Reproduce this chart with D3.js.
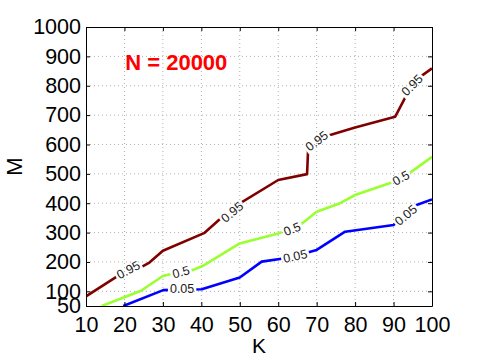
<!DOCTYPE html>
<html><head><meta charset="utf-8">
<script src="https://cdn.jsdelivr.net/npm/d3@7"></script>
<style>
html,body{margin:0;padding:0;background:#fff;}
svg{display:block;font-family:"Liberation Sans",Arial,Helvetica,sans-serif;}
</style></head>
<body><svg id="chart" width="478" height="359"></svg>
<script>
(function(){
// ---- data ----
const xTicks = [10,20,30,40,50,60,70,80,90,100];
const yTicks = [50,100,200,300,400,500,600,700,800,900,1000];
const k95 = [10,18,24,26.5,30,40.7,48,60,67.5,67.8,72,80,90.4,93.6,97,100];
const m95 = [83,150,180,198,238,298,383,479,499,590,626,658,694,774,831,859];
const k50 = [14.1,24.3,30,32.7,37.9,40.3,50,60,65.7,70,76.1,80,90.1,93.8,100];
const m50 = [50,102,152,161,173,186,263,297,326,371,400,428,473,499,558];
const k05 = [19.7,30.1,40.1,50,55.7,61.3,67.4,70,77.4,90,96,100];
const m05 = [50,104,107,147,201,212,231,241,303,326,394,413];
const levelNames = ["0.95","0.5","0.05"];
const levelColors = ["#800000","#99ff33","#0000ff"];
// contour label anchors (K, M, angle)
const lab95K = [21,48,70,94.8], lab95M = [173,370,612,802], lab95A = [-28,-40,-37,-45];
const lab50K = [34.7,63.6,91.9], lab50M = [166,312,486], lab50A = [-15,-22,-29];
const lab05K = [35,64.4,93.2], lab05M = [108,220,360], lab05A = [0,-12,-40];
const titleText = "N = 20000";

// ---- layout ----
const L=86, R=432, T=27, B=306;
const x = d3.scaleLinear().domain([10,100]).range([L,R]);
const y = d3.scaleLinear().domain([50,1000]).range([B,T]);
const svg = d3.select("#chart");

// grid
const grid = svg.append("g");
grid.selectAll("line.v").data(xTicks.slice(1,-1)).enter().append("line")
  .attr("x1",d=>x(d)).attr("x2",d=>x(d)).attr("y1",T).attr("y2",B)
  .attr("stroke","#b0b0b0").attr("stroke-width",1).attr("stroke-dasharray","1,3");
grid.selectAll("line.h").data(yTicks.slice(1,-1)).enter().append("line")
  .attr("x1",L).attr("x2",R).attr("y1",d=>y(d)).attr("y2",d=>y(d))
  .attr("stroke","#b0b0b0").attr("stroke-width",1).attr("stroke-dasharray","1,3");

// series
const series = [
  {k:k95,m:m95,lk:lab95K,lm:lab95M,la:lab95A},
  {k:k50,m:m50,lk:lab50K,lm:lab50M,la:lab50A},
  {k:k05,m:m05,lk:lab05K,lm:lab05M,la:lab05A}
];
const defs = svg.append("defs");
defs.append("clipPath").attr("id","clip").append("rect")
  .attr("x",L).attr("y",T).attr("width",R-L).attr("height",B-T);
const mask = defs.append("mask").attr("id","lblmask").attr("maskUnits","userSpaceOnUse")
  .attr("x",0).attr("y",0).attr("width",478).attr("height",359);
mask.append("rect").attr("x",0).attr("y",0).attr("width",478).attr("height",359).attr("fill","#fff");

const lineGen = d3.line().x(d=>x(d[0])).y(d=>y(d[1]));
const lines = svg.append("g").attr("clip-path","url(#clip)").append("g").attr("mask","url(#lblmask)");
const labels = svg.append("g");
series.forEach((s,i)=>{
  const pts = s.k.map((kk,j)=>[kk,s.m[j]]);
  lines.append("path").attr("d",lineGen(pts)).attr("fill","none")
    .attr("stroke",levelColors[i]).attr("stroke-width",2.6).attr("stroke-linejoin","round");
  s.lk.forEach((kk,j)=>{
    const cx=x(kk), cy=y(s.lm[j]);
    const t = labels.append("text").attr("transform",`translate(${cx},${cy}) rotate(${s.la[j]})`)
      .attr("text-anchor","middle").attr("dy","0.35em").attr("font-size",12.5).attr("fill","#222")
      .text(levelNames[i]);
    const w = t.node().getComputedTextLength()+4;
    mask.append("rect").attr("transform",`translate(${cx},${cy}) rotate(${s.la[j]})`)
      .attr("x",-w/2).attr("y",-6).attr("width",w).attr("height",12).attr("fill","#000");
  });
});

// axes
const fs = 21.5;
const fmt = d3.format("d");
const ax = svg.append("g");
const gLeft = ax.append("g").attr("transform",`translate(${L},0)`)
  .call(d3.axisLeft(y).tickValues(yTicks).tickFormat(fmt).tickSizeInner(-4).tickSizeOuter(0).tickPadding(5));
const gBottom = ax.append("g").attr("transform",`translate(0,${B})`)
  .call(d3.axisBottom(x).tickValues(xTicks).tickFormat(fmt).tickSizeInner(-4).tickSizeOuter(0).tickPadding(11));
const gRight = ax.append("g").attr("transform",`translate(${R},0)`)
  .call(d3.axisRight(y).tickValues(yTicks).tickSizeInner(-4).tickSizeOuter(0).tickFormat(""));
const gTop = ax.append("g").attr("transform",`translate(0,${T})`)
  .call(d3.axisTop(x).tickValues(xTicks).tickSizeInner(-4).tickSizeOuter(0).tickFormat(""));
[gLeft,gBottom,gRight,gTop].forEach(g=>{
  g.selectAll("path.domain").attr("stroke","#000");
  g.selectAll(".tick line").attr("stroke","#000");
  g.selectAll("text").attr("font-size",fs).attr("font-family","'Liberation Sans',Arial,Helvetica,sans-serif").attr("fill","#000");
});

// axis labels
svg.append("text").attr("x",(L+R)/2).attr("y",353).attr("text-anchor","middle")
  .attr("font-size",21).attr("fill","#000").text("K");
svg.append("text").attr("transform",`translate(22,${(T+B)/2}) rotate(-90)`).attr("text-anchor","middle")
  .attr("font-size",22).attr("fill","#000").text("M");

// annotation
svg.append("text").attr("x",x(20.2)).attr("y",y(852)).attr("font-size",22).attr("font-weight","bold")
  .attr("fill","#ff0000").text(titleText);
})();
</script></body></html>
